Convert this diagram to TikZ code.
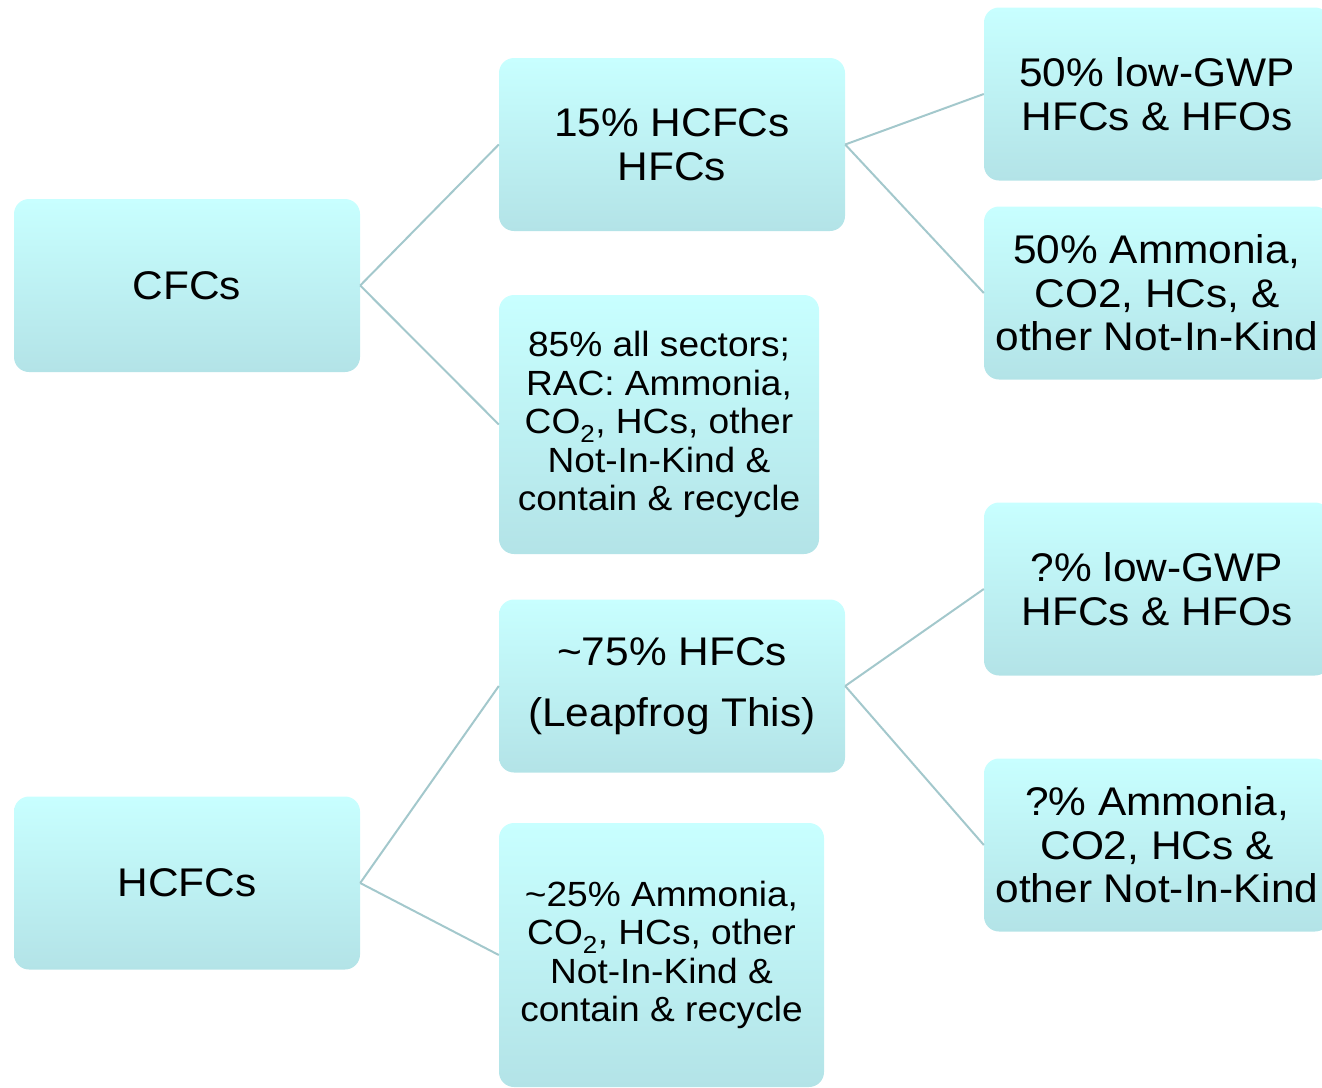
\documentclass[tikz,border=0pt]{standalone}
\usepackage{fontspec}
\setmainfont{Liberation Sans}[FakeStretch=1.06]
\definecolor{boxtop}{HTML}{C8FFFF}
\definecolor{boxbot}{HTML}{B3E3E7}
\definecolor{linkcol}{HTML}{A3C8CC}
\tikzset{
  box/.style={rectangle, rounded corners=15pt, top color=boxtop, bottom color=boxbot,
    draw=none, inner sep=0pt, align=center, text=black,
    minimum width=346pt, minimum height=173pt},
  bigtxt/.style={font=\fontsize{40}{43.5}\selectfont},
  smalltxt/.style={font=\fontsize{35}{38.5}\selectfont},
  link/.style={draw=linkcol, line width=2pt}
}
\begin{document}
\begin{tikzpicture}[x=1pt, y=-1pt]
\useasboundingbox (0,0) rectangle (1322,1087);
\clip (0,0) rectangle (1322,1087);

% root categories
\node[box, bigtxt] (cfc) at (187,285.5) {CFCs};
\node[box, bigtxt] (hcfc) at (187,883) {HCFCs};

% second level
\node[box, bigtxt] (a1) at (672,144.5) {15\% HCFCs\\HFCs};
\node[box, smalltxt, minimum width=320pt, minimum height=259pt] (a2) at (659,424.5)
  {85\% all sectors;\\RAC: Ammonia,\\CO\textsubscript{2}, HCs, other\\Not-In-Kind \&\\contain \& recycle};
\node[box, bigtxt] (b1) at (672,686) {\textasciitilde75\% HFCs\\[17pt](Leapfrog This)};
\node[box, smalltxt, minimum width=325pt, minimum height=264pt] (b2) at (661.5,955)
  {\textasciitilde25\% Ammonia,\\CO\textsubscript{2}, HCs, other\\Not-In-Kind \&\\contain \& recycle};

% third level
\node[box, bigtxt] (c1) at (1157,94) {50\% low-GWP\\HFCs \& HFOs};
\node[box, bigtxt] (c2) at (1157,293) {50\% Ammonia,\\CO2, HCs, \&\\other Not-In-Kind};
\node[box, bigtxt] (d1) at (1157,589) {?\% low-GWP\\HFCs \& HFOs};
\node[box, bigtxt] (d2) at (1157,845) {?\% Ammonia,\\CO2, HCs \&\\other Not-In-Kind};

% connectors
\draw[link] (cfc.east) -- (a1.west);
\draw[link] (cfc.east) -- (a2.west);
\draw[link] (hcfc.east) -- (b1.west);
\draw[link] (hcfc.east) -- (b2.west);
\draw[link] (a1.east) -- (c1.west);
\draw[link] (a1.east) -- (c2.west);
\draw[link] (b1.east) -- (d1.west);
\draw[link] (b1.east) -- (d2.west);
\end{tikzpicture}
\end{document}
